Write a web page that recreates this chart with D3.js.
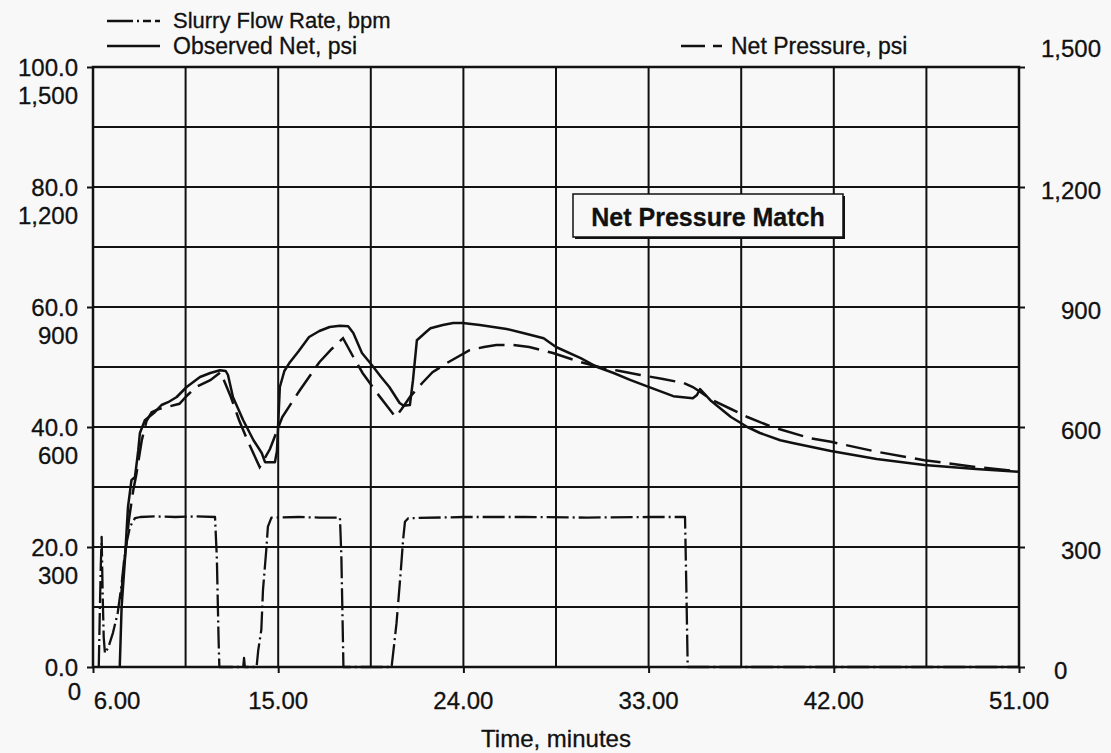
<!DOCTYPE html>
<html><head><meta charset="utf-8">
<script src="https://cdn.jsdelivr.net/npm/d3@7/dist/d3.min.js"></script>
<style>
html,body{margin:0;padding:0;background:#f8f8f8;}
svg{display:block;font-family:"Liberation Sans",Arial,Helvetica,sans-serif;}
</style></head>
<body><svg id="chart" width="1111" height="753"></svg>
<script>
// ---- data ----
const xTicks = [6, 15, 24, 33, 42, 51];
const xTickLabels = ["6.00", "15.00", "24.00", "33.00", "42.00", "51.00"];
const flowTicks = [0, 20, 40, 60, 80, 100];
const flowTickLabels = ["0.0", "20.0", "40.0", "60.0", "80.0", "100.0"];
const psiTicks = [0, 300, 600, 900, 1200, 1500];
const psiTickLabels = ["0", "300", "600", "900", "1,200", "1,500"];

const flowTime = [6.28, 6.33, 6.38, 6.42, 6.47, 6.52, 6.58, 6.75, 6.97, 7.20, 7.39, 7.50, 7.65, 7.80, 8.04, 8.30, 9.0, 10.0, 11.0, 11.93, 12.02, 12.10, 12.14,
  13.30, 13.34, 13.38, 13.95, 14.03, 14.18, 14.26, 14.42, 14.50, 14.67, 16.0, 17.0, 18.00, 18.07, 18.17,
  20.51, 20.75, 20.95, 21.07, 21.16, 21.32, 24.0, 27.0, 30.0, 33.0, 34.77, 34.83, 34.90, 51.0];
const flowRate = [0, 9, 17, 21.7, 12, 5, 2.3, 3.3, 5.7, 9.0, 13.8, 17.5, 21.0, 23.4, 24.8, 25.0, 25.1, 25.0, 25.1, 25.0, 18, 5, 0,
  0, 1.5, 0, 0, 2.8, 6.2, 12.8, 19.5, 23.4, 24.9, 25.0, 24.9, 24.9, 18.4, 0,
  0, 7.3, 15.7, 21.2, 24.2, 24.8, 25.0, 25.0, 24.9, 25.0, 25.0, 14, 0, 0];

const obsTime = [7.30, 7.39, 7.55, 7.70, 7.87, 8.04, 8.20, 8.28, 8.52, 9.00, 9.33, 9.65, 10.07, 10.55, 11.2, 11.7, 12.17, 12.45, 12.56, 12.8, 13.3, 13.8, 14.2, 14.36, 14.84, 14.94,
  15.08, 15.3, 15.57, 16.0, 16.5, 17.0, 17.5, 18.0, 18.4, 18.65, 19.07, 19.55, 20.0, 20.4, 20.9, 21.1, 21.4, 21.55, 21.74, 22.2, 22.4, 23.0, 23.5, 23.97,
  24.8, 26.1, 26.9, 27.9, 28.5, 29.7, 30.5, 31.3, 32.1, 32.9, 34.2, 35.15, 35.35, 35.5, 36.0, 37.0, 37.8, 38.41, 39.4, 40.0, 41.86, 44.08, 46.4, 48.9, 51.0];
const obsPsi = [0, 150, 267, 400, 467, 475, 542, 585, 617, 637, 655, 662, 675, 700, 725, 735, 742, 740, 730, 675, 617, 567, 535, 512, 512, 540,
  700, 740, 762, 790, 825, 840, 850, 853, 852, 835, 785, 755, 725, 700, 660, 653, 655, 717, 817, 838, 847, 855, 860, 860,
  855, 845, 835, 822, 800, 772, 750, 735, 718, 702, 677, 672, 680, 695, 667, 625, 600, 585, 567, 560, 540, 520, 505, 495, 488];

const netTime = [7.35, 7.55, 7.75, 7.95, 8.1, 8.37, 8.6, 8.85, 9.2, 9.6, 10.2, 10.6, 11.0, 11.7, 12.2, 12.7, 13.1, 13.5, 14.1, 14.6, 15.2, 16.05, 17.0, 17.6, 18.15,
  18.65, 19.1, 19.8, 20.4, 20.7, 21.0, 21.4, 22.0, 22.5, 23.2, 24.3, 25.0, 25.6, 26.4, 27.2, 28.35, 29.7, 30.6, 31.6, 32.6, 33.7, 34.7, 35.15, 35.5, 36.1,
  37.0, 37.8, 39.0, 40.85, 41.86, 44.1, 46.4, 48.9, 51.0];
const netPsi = [170, 275, 370, 440, 480, 567, 615, 637, 645, 650, 658, 680, 700, 717, 737, 675, 617, 567, 500, 545, 625, 692, 762, 795, 822,
  775, 735, 685, 645, 625, 645, 675, 710, 737, 760, 792, 800, 805, 805, 800, 785, 762, 750, 740, 730, 720, 710, 700, 688, 667,
  645, 625, 600, 572, 563, 538, 517, 500, 489];

// ---- layout ----
const svg = d3.select("#chart");
const L = 93, R = 1019, T = 67, B = 667;
const x = d3.scaleLinear().domain([6, 51]).range([L, R]);
const yF = d3.scaleLinear().domain([0, 100]).range([B, T]);
const yP = d3.scaleLinear().domain([0, 1500]).range([B, T]);
const FS = 24;

// grid
const g = svg.append("g");
g.selectAll(".vg").data(d3.range(6, 51.01, 4.5)).join("line")
  .attr("x1", d => x(d)).attr("x2", d => x(d)).attr("y1", T).attr("y2", B)
  .attr("stroke", "#111").attr("stroke-width", 2);
g.selectAll(".hg").data(d3.range(0, 100.01, 10)).join("line")
  .attr("x1", L).attr("x2", R).attr("y1", d => yF(d)).attr("y2", d => yF(d))
  .attr("stroke", "#111").attr("stroke-width", 2);
svg.append("rect").attr("x", L).attr("y", T).attr("width", R - L).attr("height", B - T)
  .attr("fill", "none").attr("stroke", "#111").attr("stroke-width", 2.5);

// axes (ticks only, custom labels)
const bottomAx = svg.append("g").attr("transform", `translate(0,${B})`)
  .call(d3.axisBottom(x).tickValues(xTicks).tickSize(6).tickFormat(""));
const leftAx = svg.append("g").attr("transform", `translate(${L},0)`)
  .call(d3.axisLeft(yF).tickValues(flowTicks).tickSize(6).tickFormat(""));
const rightAx = svg.append("g").attr("transform", `translate(${R},0)`)
  .call(d3.axisRight(yP).tickValues(psiTicks).tickSize(6).tickFormat(""));
[bottomAx, leftAx, rightAx].forEach(a => {
  a.select(".domain").remove();
  a.selectAll("line").attr("stroke", "#111").attr("stroke-width", 2);
});

const txt = (xx, yy, s, anchor, size, weight) => svg.append("text")
  .attr("x", xx).attr("y", yy).attr("text-anchor", anchor || "start")
  .attr("dominant-baseline", "central").attr("font-size", size || FS)
  .attr("font-weight", weight || "normal").attr("fill", "#111")
  .attr("stroke", "#111").attr("stroke-width", 0.3).text(s);

// x labels
xTicks.forEach((t, i) => txt(x(t) + (i === 0 ? 24 : 0), 700, xTickLabels[i], "middle"));
// left labels: flow and psi pairs
flowTicks.forEach((t, i) => {
  txt(78, yF(t), flowTickLabels[i], "end");
  if (i === 0) txt(81, 691, psiTickLabels[i], "end");
  else txt(78, yF(t) + 28, psiTickLabels[i], "end");
});
// right labels
psiTicks.forEach((t, i) => {
  const yy = i === psiTicks.length - 1 ? yP(t) - 19 : yP(t) + 3;
  if (i === 0) txt(1054, yy, psiTickLabels[i], "start");
  else txt(1101, yy, psiTickLabels[i], "end");
});
txt(x(28.5), 738, "Time, minutes", "middle");

// series
const lineGen = (xs, ys, yScale) => d3.line().x((d, i) => x(xs[i])).y((d, i) => yScale(ys[i]))(xs);
svg.append("path").attr("d", lineGen(flowTime, flowRate, yF))
  .attr("fill", "none").attr("stroke", "#111").attr("stroke-width", 2.3)
  .attr("stroke-dasharray", "22,4,2,4").attr("stroke-linejoin", "round");
svg.append("path").attr("d", lineGen(netTime, netPsi, yP))
  .attr("fill", "none").attr("stroke", "#111").attr("stroke-width", 2.5)
  .attr("stroke-dasharray", "26,9");
svg.append("path").attr("d", lineGen(obsTime, obsPsi, yP))
  .attr("fill", "none").attr("stroke", "#111").attr("stroke-width", 2.5)
  .attr("stroke-linejoin", "round");

// legend
const LFS = 22;
svg.append("line").attr("x1", 107).attr("x2", 160).attr("y1", 21).attr("y2", 21)
  .attr("stroke", "#111").attr("stroke-width", 2.3).attr("stroke-dasharray", "26,4,2,4,8,4");
txt(173, 20, "Slurry Flow Rate, bpm", "start", LFS);
svg.append("line").attr("x1", 107).attr("x2", 160).attr("y1", 46).attr("y2", 46)
  .attr("stroke", "#111").attr("stroke-width", 2.3);
txt(173, 46, "Observed Net, psi", "start", 23);
svg.append("line").attr("x1", 681).attr("x2", 722).attr("y1", 46).attr("y2", 46)
  .attr("stroke", "#111").attr("stroke-width", 2.3).attr("stroke-dasharray", "24,8");
txt(731, 46, "Net Pressure, psi", "start", 23);

// annotation box
const bx = 573, by = 194, bw = 270, bh = 43;
svg.append("rect").attr("x", bx + 2).attr("y", by + 2).attr("width", bw).attr("height", bh).attr("fill", "#111");
svg.append("rect").attr("x", bx).attr("y", by).attr("width", bw).attr("height", bh)
  .attr("fill", "#f8f8f8").attr("stroke", "#111").attr("stroke-width", 1.5);
txt(bx + bw / 2, by + bh / 2 + 1, "Net Pressure Match", "middle", 25, "bold");
</script></body></html>
